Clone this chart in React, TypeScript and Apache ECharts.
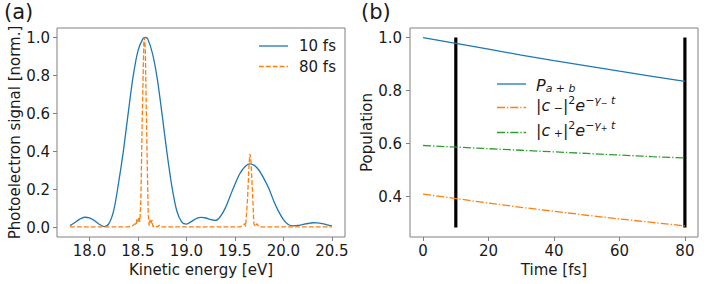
import React, { useEffect, useRef } from "react";
import * as echarts from "echarts";

// ---- Panel (a): photoelectron spectra ----
const energy10 = [
  17.8, 17.85, 17.9, 17.95, 18.0, 18.05, 18.1, 18.15, 18.2, 18.25, 18.3, 18.35, 18.4, 18.45,
  18.5, 18.55, 18.575, 18.6, 18.65, 18.7, 18.75, 18.8, 18.85, 18.9, 18.95, 19.0, 19.05, 19.1,
  19.15, 19.2, 19.25, 19.3, 19.35, 19.4, 19.45, 19.5, 19.55, 19.6, 19.65, 19.7, 19.75, 19.8,
  19.85, 19.9, 19.95, 20.0, 20.05, 20.1, 20.15, 20.2, 20.25, 20.3, 20.35, 20.4, 20.45, 20.5,
];
const signal10fs = [
  0.01, 0.026, 0.044, 0.054, 0.051, 0.037, 0.017, 0.005, 0.02, 0.09, 0.235, 0.405, 0.605, 0.795,
  0.93, 0.993, 1.0, 0.993, 0.915, 0.78, 0.59, 0.39, 0.215, 0.088, 0.03, 0.018, 0.031, 0.047,
  0.053, 0.05, 0.042, 0.037, 0.058, 0.102, 0.165, 0.228, 0.283, 0.318, 0.335, 0.327, 0.3, 0.256,
  0.205, 0.14, 0.085, 0.042, 0.016, 0.009, 0.011, 0.016, 0.021, 0.025, 0.024, 0.02, 0.014, 0.008,
];
const energy80 = [
  17.8, 18.4, 18.44, 18.47, 18.48, 18.49, 18.5, 18.51, 18.52, 18.53, 18.545, 18.56, 18.565,
  18.575, 18.59, 18.605, 18.615, 18.625, 18.635, 18.645, 18.655, 18.68, 18.7, 18.72, 18.74,
  19.55, 19.58, 19.6, 19.61, 19.63, 19.645, 19.655, 19.665, 19.68, 19.695, 19.71, 19.725,
  19.74, 19.76, 20.5,
];
const signal80fs = [
  0.003, 0.003, 0.008, 0.02, 0.012, 0.045, 0.03, 0.055, 0.03, 0.15, 0.6, 0.97, 1.0,
  0.95, 0.5, 0.08, 0.01, 0.04, 0.02, 0.04, 0.005, 0.01, 0.003, 0.012, 0.003,
  0.003, 0.01, 0.02, 0.005, 0.15, 0.33, 0.387, 0.35, 0.2, 0.02, 0.005, 0.02,
  0.01, 0.003, 0.003,
];
const xTicksA = [18.0, 18.5, 19.0, 19.5, 20.0, 20.5];
const yTicksA = [0.0, 0.2, 0.4, 0.6, 0.8, 1.0];

// ---- Panel (b): populations ----
const timeFs = [0, 10, 20, 30, 40, 50, 60, 70, 80];
const popTotal = [1.0, 0.978, 0.956, 0.934, 0.913, 0.893, 0.873, 0.854, 0.835];
const popMinus = [0.41, 0.393, 0.376, 0.36, 0.345, 0.33, 0.316, 0.303, 0.29];
const popPlus = [0.593, 0.587, 0.581, 0.575, 0.569, 0.563, 0.557, 0.551, 0.546];
const markerTimes = [10, 80];
const markerSpan = [0.284, 1.0];
const xTicksB = [0, 20, 40, 60, 80];
const yTicksB = [0.4, 0.6, 0.8, 1.0];

const BLUE = "#1f77b4";
const ORANGE = "#ff7f0e";
const GREEN = "#2ca02c";
const FONT = "DejaVu Sans";
const SPINE = "#808080";
const DASHED = [4.8, 2.1];
const DASHDOT = [8, 2, 1.3, 2];

const zip = (xs: number[], ys: number[]) => xs.map((x, i) => [x, ys[i]]);

function axisCommon(decimals: number, margin: number) {
  return {
    axisLine: { show: false, onZero: false },
    splitLine: { show: false },
    axisTick: { show: true, length: 4, lineStyle: { color: SPINE, width: 1 } },
    axisLabel: {
      fontFamily: FONT,
      fontSize: 15,
      color: "#1a1a1a",
      margin,
      formatter: (v: number) => v.toFixed(decimals),
    },
    nameTextStyle: { fontFamily: FONT, fontSize: 15, color: "#1a1a1a" },
    nameLocation: "middle" as const,
  };
}

export default function App() {
  const ref = useRef<HTMLDivElement>(null);
  useEffect(() => {
    if (!ref.current) return;
    const chart = echarts.init(ref.current, undefined, { renderer: "svg" });
    const xa = axisCommon(1, 6);
    const ya = axisCommon(1, 7);
    const xb = axisCommon(0, 6);
    const yb = axisCommon(1, 8);

    const baseText = { fontFamily: FONT, fontSize: 15, fill: "#1a1a1a" };
    const rich = {
      n: { fontFamily: FONT, fontSize: 16, fill: "#1a1a1a" },
      i: { fontFamily: FONT, fontSize: 16, fontStyle: "italic", fill: "#1a1a1a" },
      sub: { fontFamily: FONT, fontSize: 11, fill: "#1a1a1a", padding: [7, 0, 0, 0] },
      subi: { fontFamily: FONT, fontSize: 11, fontStyle: "italic", fill: "#1a1a1a", padding: [7, 0, 0, 0] },
      sup: { fontFamily: FONT, fontSize: 11, fill: "#1a1a1a", padding: [0, 0, 9, 0] },
      supi: { fontFamily: FONT, fontSize: 11, fontStyle: "italic", fill: "#1a1a1a", padding: [0, 0, 9, 0] },
      ssub: { fontFamily: FONT, fontSize: 8, fill: "#1a1a1a", padding: [0, 0, 4, 0] },
    };

    chart.setOption({
      animation: false,
      backgroundColor: "#ffffff",
      grid: [
        { left: 57, top: 28, width: 288, height: 209, show: true, borderColor: SPINE, borderWidth: 1, backgroundColor: "transparent" },
        { left: 410, top: 28, width: 288, height: 209, show: true, borderColor: SPINE, borderWidth: 1, backgroundColor: "transparent" },
      ],
      xAxis: [
        {
          type: "value", gridIndex: 0, min: 17.665, max: 20.635,
          name: "Kinetic energy [eV]", nameGap: 23,
          ...xa,
          axisTick: { ...xa.axisTick, customValues: xTicksA },
          axisLabel: { ...xa.axisLabel, customValues: xTicksA },
        },
        {
          type: "value", gridIndex: 1, min: -4, max: 84,
          name: "Time [fs]", nameGap: 23,
          ...xb,
          axisTick: { ...xb.axisTick, customValues: xTicksB },
          axisLabel: { ...xb.axisLabel, customValues: xTicksB },
        },
      ],
      yAxis: [
        {
          type: "value", gridIndex: 0, min: -0.05, max: 1.05,
          name: "Photoelectron signal [norm.]", nameGap: 35,
          ...ya,
          axisTick: { ...ya.axisTick, customValues: yTicksA },
          axisLabel: { ...ya.axisLabel, customValues: yTicksA },
        },
        {
          type: "value", gridIndex: 1, min: 0.248, max: 1.036,
          name: "Population", nameGap: 35,
          ...yb,
          axisTick: { ...yb.axisTick, customValues: yTicksB },
          axisLabel: { ...yb.axisLabel, customValues: yTicksB },
        },
      ],
      series: [
        {
          name: "10 fs", type: "line", xAxisIndex: 0, yAxisIndex: 0, showSymbol: false, smooth: 0.3,
          data: zip(energy10, signal10fs), lineStyle: { color: BLUE, width: 1.3 }, itemStyle: { color: BLUE },
        },
        {
          name: "80 fs", type: "line", xAxisIndex: 0, yAxisIndex: 0, showSymbol: false,
          data: zip(energy80, signal80fs), lineStyle: { color: ORANGE, width: 1.3, type: DASHED }, itemStyle: { color: ORANGE },
        },
        ...markerTimes.map((t) => ({
          type: "line", xAxisIndex: 1, yAxisIndex: 1, showSymbol: false, z: 1,
          data: markerSpan.map((v) => [t, v]), lineStyle: { color: "#000", width: 3.2 },
        })),
        {
          name: "P", type: "line", xAxisIndex: 1, yAxisIndex: 1, showSymbol: false, z: 3,
          data: zip(timeFs, popTotal), lineStyle: { color: BLUE, width: 1.3 },
        },
        {
          name: "c-", type: "line", xAxisIndex: 1, yAxisIndex: 1, showSymbol: false, z: 3,
          data: zip(timeFs, popMinus), lineStyle: { color: ORANGE, width: 1.3, type: DASHDOT },
        },
        {
          name: "c+", type: "line", xAxisIndex: 1, yAxisIndex: 1, showSymbol: false, z: 3,
          data: zip(timeFs, popPlus), lineStyle: { color: GREEN, width: 1.3, type: DASHDOT },
        },
      ],
      graphic: [
        { type: "text", left: 4, top: 1, style: { text: "(a)", fontFamily: FONT, fontSize: 21, fill: "#1a1a1a" } },
        { type: "text", left: 361, top: 1, style: { text: "(b)", fontFamily: FONT, fontSize: 21, fill: "#1a1a1a" } },
        // legend (a)
        { type: "line", shape: { x1: 259, y1: 46, x2: 288, y2: 46 }, style: { stroke: BLUE, lineWidth: 1.3 } },
        { type: "text", x: 299, y: 46, style: { ...baseText, text: "10 fs", verticalAlign: "middle" } },
        { type: "line", shape: { x1: 259, y1: 66.5, x2: 288, y2: 66.5 }, style: { stroke: ORANGE, lineWidth: 1.3, lineDash: DASHED } },
        { type: "text", x: 299, y: 66.5, style: { ...baseText, text: "80 fs", verticalAlign: "middle" } },
        // legend (b)
        { type: "line", shape: { x1: 497, y1: 84, x2: 526, y2: 84 }, style: { stroke: BLUE, lineWidth: 1.3 } },
        { type: "text", x: 536, y: 85, style: { ...baseText, text: "{i|P}{subi|a}{sub| + }{subi|b}", rich, verticalAlign: "middle" } },
        { type: "line", shape: { x1: 497, y1: 107.5, x2: 526, y2: 107.5 }, style: { stroke: ORANGE, lineWidth: 1.3, lineDash: DASHDOT } },
        {
          type: "text", x: 536, y: 105,
          style: { ...baseText, text: "{n||}{i|c}{sub| −}{n||}{sup|2}{i|e}{sup|−}{supi|γ}{ssub|−}{supi| t}", rich, verticalAlign: "middle" },
        },
        { type: "line", shape: { x1: 497, y1: 132.5, x2: 526, y2: 132.5 }, style: { stroke: GREEN, lineWidth: 1.3, lineDash: DASHDOT } },
        {
          type: "text", x: 536, y: 130,
          style: { ...baseText, text: "{n||}{i|c}{sub| +}{n||}{sup|2}{i|e}{sup|−}{supi|γ}{ssub|+}{supi| t}", rich, verticalAlign: "middle" },
        },
      ],
    });
    return () => chart.dispose();
  }, []);
  return (
    <div
      ref={ref}
      style={{ position: "fixed", left: 0, top: 0, width: 706, height: 284, background: "#fff" }}
    />
  );
}
